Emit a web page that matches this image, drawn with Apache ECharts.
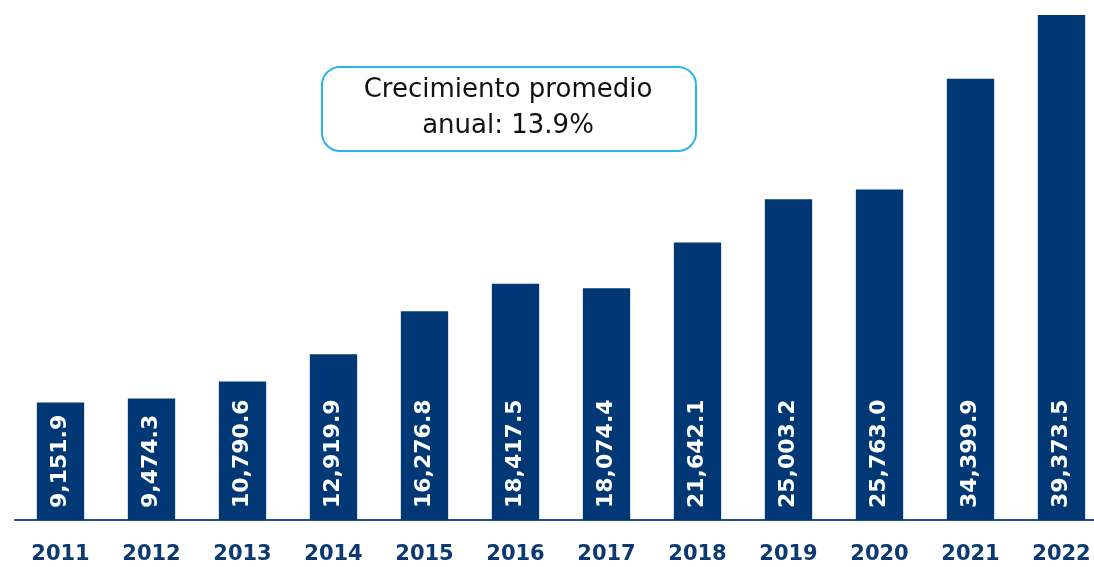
<!DOCTYPE html>
<html>
<head>
<meta charset="utf-8">
<script src="https://cdn.jsdelivr.net/npm/echarts@6/dist/echarts.min.js"></script>
<style>
  html, body { margin: 0; padding: 0; background: #fff; }
  #chart { width: 1094px; height: 567px; }
</style>
</head>
<body>
<div id="chart"></div>
<script>
const years = ['2011','2012','2013','2014','2015','2016','2017','2018','2019','2020','2021','2022']
const values = [9151.9, 9474.3, 10790.6, 12919.9, 16276.8, 18417.5, 18074.4, 21642.1, 25003.2, 25763.0, 34399.9, 39373.5]
const noteLines = ['Crecimiento promedio', 'anual: 13.9%']

const fmt = v => v.toLocaleString('en-US', { minimumFractionDigits: 1, maximumFractionDigits: 1 })

var myChart = echarts.init(document.getElementById('chart'))

const option = {
  animation: false,
  grid: {
    top: 15,
    bottom: 47,
    left: 15,
    width: 1092,
    outerBoundsMode: 'none'
  },
  xAxis: {
    type: 'category',
    data: years,
    axisTick: { show: false },
    axisLine: {
      show: true,
      lineStyle: { color: '#1d4f8a', width: 2 }
    },
    axisLabel: {
      color: '#0b3a72',
      fontSize: 21,
      fontWeight: 'bold',
      fontFamily: 'DejaVu Sans',
      margin: 24
    }
  },
  yAxis: {
    type: 'value',
    min: 0,
    max: 39373.5,
    show: false,
    splitLine: { show: false }
  },
  series: [
    {
      type: 'bar',
      data: values,
      barWidth: '52%',
      itemStyle: { color: '#003876' },
      label: {
        show: true,
        position: 'insideBottom',
        rotate: 90,
        align: 'left',
        verticalAlign: 'middle',
        distance: 12,
        color: '#fff',
        fontSize: 22,
        fontWeight: 'bold',
        fontFamily: 'DejaVu Sans',
        formatter: p => fmt(p.value)
      }
    }
  ],
  graphic: [
    {
      type: 'rect',
      left: 321,
      top: 66,
      shape: { width: 374, height: 84, r: 18 },
      style: { fill: '#fff', stroke: '#29b6e8', lineWidth: 2 }
    },
    {
      type: 'text',
      x: 508,
      y: 72,
      style: {
        text: noteLines.join('\n'),
        textAlign: 'center',
        textVerticalAlign: 'top',
        fill: '#111',
        font: '500 26px "DejaVu Sans"',
        lineHeight: 36
      }
    }
  ]
}

myChart.setOption(option)
</script>
</body>
</html>
